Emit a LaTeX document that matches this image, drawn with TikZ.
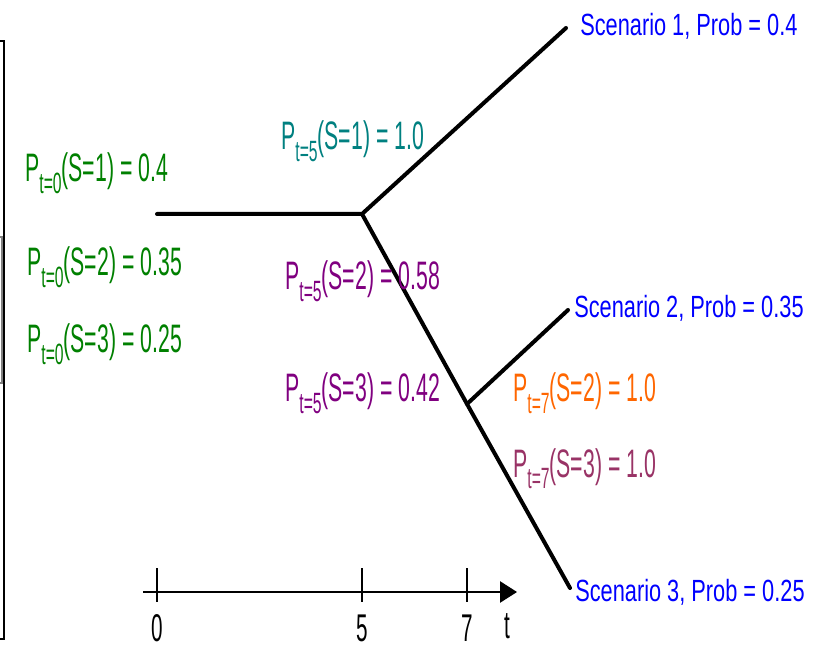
\documentclass[tikz,border=0pt]{standalone}
\usepackage{fontspec}
\setmainfont{Liberation Sans}
\newfontfamily\narrowfont[FakeStretch=0.535]{Liberation Sans}
\newfontfamily\scenfont[FakeStretch=0.71]{Liberation Sans}
\usetikzlibrary{positioning, arrows.meta}

\definecolor{pgreen}{RGB}{0,128,0}
\definecolor{pteal}{RGB}{0,128,128}
\definecolor{ppurple}{RGB}{128,0,128}
\definecolor{porange}{RGB}{255,102,0}
\definecolor{pplum}{RGB}{153,51,102}
\definecolor{sblue}{RGB}{0,0,255}

% P_{t=..}(S=..) = ..
\newcommand{\probtxt}[3]{P\raisebox{-8.4pt}{\fontsize{22}{22}\selectfont t=#1}(S=#2) = #3}

\begin{document}
\begin{tikzpicture}[x=0.75pt, y=-0.75pt,
    branch/.style={line width=3pt, line cap=round},
    axis/.style={line width=1.1pt},
    plabel/.style={inner sep=0pt, anchor=base west, font=\narrowfont\fontsize{29.8}{31}\selectfont},
    scen/.style={inner sep=0pt, anchor=base west, text=sblue, font=\scenfont\fontsize{23}{25}\selectfont},
    ticklab/.style={inner sep=0pt, anchor=base, font=\narrowfont\fontsize{29}{31}\selectfont}]

    \useasboundingbox (0,0) rectangle (814,648);

    % --- tree points ---
    \coordinate (root) at (157,214);
    \coordinate (n5) at (362,214);
    \coordinate (n7) at (467,404);
    \coordinate (s1) at (566,28);
    \coordinate (s2) at (568,310);
    \coordinate (s3) at (570,588);

    % --- branches ---
    \draw[branch] (root) -- (n5) -- (s1);
    \draw[branch] (n5) -- (n7) -- (s3);
    \draw[branch] (n7) -- (s2);

    % --- scenarios ---
    \node[scen] (lab1) at (580,36) {Scenario 1, Prob = 0.4};
    \node[scen] (lab2) at (574,318) {Scenario 2, Prob = 0.35};
    \node[scen] (lab3) at (575,601) {Scenario 3, Prob = 0.25};

    % --- probabilities at t=0 ---
    \node[plabel, text=pgreen] (g1) at (25,182) {\probtxt{0}{1}{0.4}};
    \node[plabel, text=pgreen] (g2) at (27,276) {\probtxt{0}{2}{0.35}};
    \node[plabel, text=pgreen] (g3) at (27,353) {\probtxt{0}{3}{0.25}};

    % --- probabilities at t=5 ---
    \node[plabel, text=pteal] (c1) at (281,150) {\probtxt{5}{1}{1.0}};
    \node[plabel, text=ppurple] (p2) at (285,290) {\probtxt{5}{2}{0.58}};
    \node[plabel, text=ppurple] (p3) at (285,402) {\probtxt{5}{3}{0.42}};

    % --- probabilities at t=7 ---
    \node[plabel, text=porange] (o2) at (513,402) {\probtxt{7}{2}{1.0}};
    \node[plabel, text=pplum] (o3) at (513,477) {\probtxt{7}{3}{1.0}};

    % --- time axis ---
    \coordinate (ax0) at (143,592);
    \coordinate (ax1) at (517,592);
    \draw[axis, -{Triangle[length=12.75pt, width=16pt]}] (ax0) -- (ax1);
    \foreach \x/\t in {157/0, 362/5, 467/7} {
        \draw[axis] (\x,568) -- (\x,602);
        \node[ticklab] (tk\t) at (\x,641) {\t};
    }
    \node[ticklab] (tlab) at (507,638) {t};

    % --- left edge ---
    \draw[axis] (0,41) -- (4,41) -- (4,639) -- (0,639);
    \draw[gray, line width=0.8pt] (0,237) -- (2,237) -- (2,383) -- (0,383);

\end{tikzpicture}
\end{document}
